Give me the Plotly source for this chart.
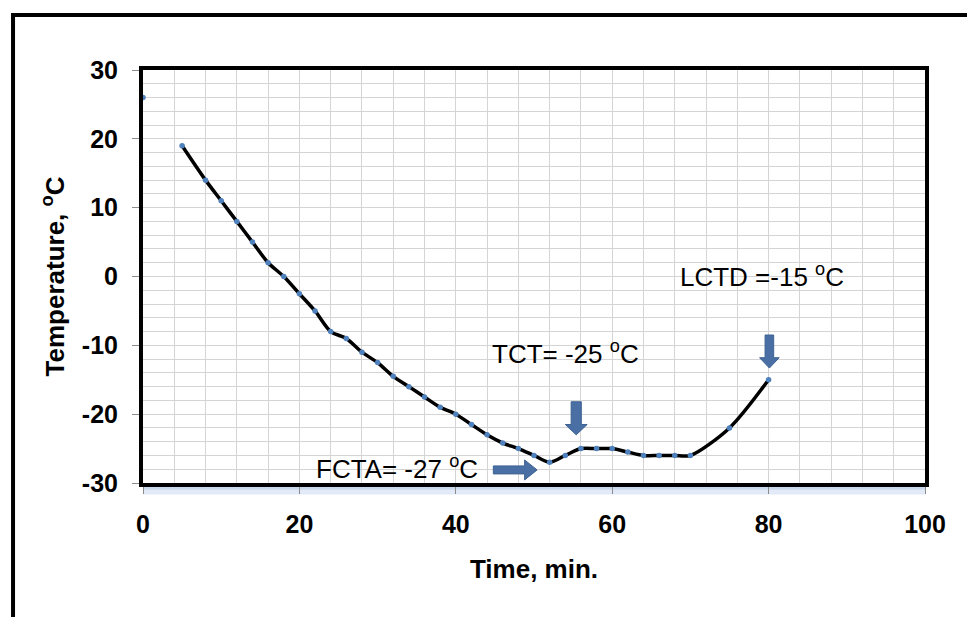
import plotly.graph_objects as go

# ---- data ----
time_min = [5, 8, 10, 12, 14, 16, 18, 20, 22, 24, 26, 28, 30, 32, 34, 36, 38, 40, 42,
            44, 46, 48, 50, 52, 54, 56, 58, 60, 62, 64, 66, 68, 70, 75, 80]
temperature = [19, 14, 11, 8, 5, 2, 0, -2.5, -5, -8, -9, -11, -12.5, -14.5, -16, -17.5,
               -19, -20, -21.5, -23, -24.2, -25, -26, -27, -26, -25, -25, -25, -25.5,
               -26, -26, -26, -26, -22, -15]
start_time = [0]
start_temp = [26]

x_ticks = [0, 20, 40, 60, 80, 100]
y_ticks = [-30, -20, -10, 0, 10, 20, 30]

labels = ["LCTD =-15 <sup>o</sup>C", "TCT= -25 <sup>o</sup>C", "FCTA= -27 <sup>o</sup>C"]
label_x = [79.2, 54.0, 32.5]
label_y = [0.1, -11.1, -27.8]

FONT = "Arial, Liberation Sans, sans-serif"
ARROW = "#4a6fa5"

fig = go.Figure()
fig.add_trace(go.Scatter(
    x=time_min, y=temperature, mode="lines+markers",
    line=dict(color="black", width=3.5, shape="spline", smoothing=0.8),
    marker=dict(color="#4f81bd", size=5.5, line=dict(width=0)),
    showlegend=False, hoverinfo="x+y"))
fig.add_trace(go.Scatter(
    x=start_time, y=start_temp, mode="markers",
    marker=dict(color="#4f81bd", size=5.5, line=dict(width=0)),
    showlegend=False, cliponaxis=False))


def down_arrow(xc, y_top, y_base, y_tip, hw_s, hw_h):
    return (f"M {xc-hw_s},{y_top} L {xc+hw_s},{y_top} L {xc+hw_s},{y_base} "
            f"L {xc+hw_h},{y_base} L {xc},{y_tip} L {xc-hw_h},{y_base} "
            f"L {xc-hw_s},{y_base} Z")


def right_arrow(yc, x_left, x_base, x_tip, hh_s, hh_h):
    return (f"M {x_left},{yc+hh_s} L {x_base},{yc+hh_s} L {x_base},{yc+hh_h} "
            f"L {x_tip},{yc} L {x_base},{yc-hh_h} L {x_base},{yc-hh_s} "
            f"L {x_left},{yc-hh_s} Z")


shapes = [
    # outer chart frame (cropped at right/bottom)
    dict(type="path", xref="paper", yref="paper",
         path="M -0.1662,-0.4 L -0.1662,1.1332 L 1.1,1.1332",
         line=dict(color="black", width=4)),
    # light blue shadow under plot area
    dict(type="rect", xref="paper", yref="paper", x0=0, x1=1.0, y0=-0.028, y1=-0.006,
         fillcolor="rgba(200,216,238,0.55)", line=dict(width=0), layer="below"),
    dict(type="rect", xref="paper", yref="paper", x0=0, x1=1.0, y0=-0.016, y1=-0.006,
         fillcolor="rgba(185,205,232,0.6)", line=dict(width=0), layer="below"),
    # block arrows
    dict(type="path", xref="x", yref="y", path=down_arrow(80.1, -8.5, -11.8, -13.3, 0.55, 1.25),
         fillcolor=ARROW, line=dict(color="#3d6291", width=1)),
    dict(type="path", xref="x", yref="y", path=down_arrow(55.4, -18.2, -21.5, -23.0, 0.65, 1.4),
         fillcolor=ARROW, line=dict(color="#3d6291", width=1)),
    dict(type="path", xref="x", yref="y", path=right_arrow(-28.1, 44.8, 48.8, 50.4, 0.58, 1.45),
         fillcolor=ARROW, line=dict(color="#3d6291", width=1)),
]

annotations = [
    dict(x=lx, y=ly, xref="x", yref="y", text=t, showarrow=False,
         font=dict(family=FONT, size=26, color="black"), xanchor="center", yanchor="middle")
    for t, lx, ly in zip(labels, label_x, label_y)
]

fig.update_layout(
    width=967, height=617,
    margin=dict(l=143, r=42, t=70, b=134),
    paper_bgcolor="white", plot_bgcolor="white",
    font=dict(family=FONT, color="black"),
    shapes=shapes, annotations=annotations,
    xaxis=dict(
        range=[0, 100], tickvals=x_ticks, ticktext=[str(v) for v in x_ticks],
        showgrid=True, gridcolor="#d4d4d4", gridwidth=1,
        minor=dict(dtick=4, tick0=0, showgrid=True, gridcolor="#d4d4d4", gridwidth=1),
        showline=True, linecolor="black", linewidth=4, mirror=True,
        ticks="outside", ticklen=7, tickcolor="#8c8c8c", tickwidth=1,
        tickfont=dict(family=FONT, size=25, color="black", weight="bold"),
        ticklabelstandoff=9,
        zeroline=False,
        title=dict(text="Time, min.", font=dict(family=FONT, size=26, weight="bold"),
                   standoff=24),
    ),
    yaxis=dict(
        range=[-30, 30], tickvals=y_ticks, ticktext=[str(v) for v in y_ticks],
        showgrid=True, gridcolor="#d4d4d4", gridwidth=1,
        minor=dict(dtick=2, tick0=0, showgrid=True, gridcolor="#d4d4d4", gridwidth=1),
        showline=True, linecolor="black", linewidth=4, mirror=True,
        ticks="outside", ticklen=7, tickcolor="#8c8c8c", tickwidth=1,
        tickfont=dict(family=FONT, size=25, color="black", weight="bold"),
        ticklabelstandoff=9,
        zeroline=False,
        title=dict(text="Temperature, <sup>o</sup>C",
                   font=dict(family=FONT, size=26, weight="bold"), standoff=11),
    ),
)

fig.write_html("out.html")
